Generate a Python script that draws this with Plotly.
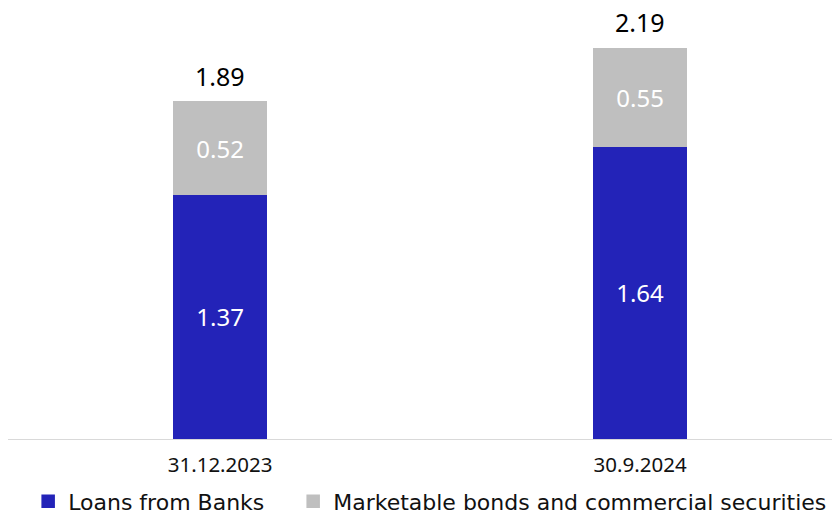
import plotly.graph_objects as go

categories = ["31.12.2023", "30.9.2024"]
loans = [1.37, 1.64]
bonds = [0.52, 0.55]
totals = [1.89, 2.19]

FONT = "Noto Sans"
LEGEND_FONT = "DejaVu Sans"
fig = go.Figure()
fig.add_trace(go.Bar(
    x=categories, y=loans, name="Loans from Banks",
    marker=dict(color="#2323B8", line=dict(width=1.5, color="#2323B8")),
    text=[f"{v:.2f}" for v in loans], textposition="inside",
    insidetextanchor="middle",
    textfont=dict(color="white", size=24, family=FONT),
    width=0.22, legend="legend",
))
fig.add_trace(go.Bar(
    x=categories, y=bonds, name="Marketable bonds and commercial securities",
    marker=dict(color="#BFBFBF", line=dict(width=1.5, color="#BFBFBF")),
    text=[f"{v:.2f}" for v in bonds], textposition="inside",
    insidetextanchor="middle",
    textfont=dict(color="white", size=24, family=FONT),
    width=0.22, legend="legend2",
))
for c, t in zip(categories, totals):
    fig.add_annotation(x=c, y=t, text=f"{t:.2f}", showarrow=False,
                       yanchor="bottom", yshift=11, height=26,
                       font=dict(color="black", size=25, family=FONT))

leg_common = dict(orientation="h", y=-0.145, yanchor="middle", xanchor="left",
                  font=dict(size=22, color="#111111", family=LEGEND_FONT),
                  itemwidth=30, bgcolor="rgba(0,0,0,0)")

fig.update_layout(
    barmode="stack",
    width=840, height=516,
    margin=dict(l=0, r=0, t=0, b=85),
    plot_bgcolor="white", paper_bgcolor="white",
    uniformtext=dict(mode=False),
    font=dict(family=FONT, size=20, color="#111111"),
    xaxis=dict(range=[-0.505, 1.495], showgrid=False, showline=True,
               linecolor="#D9D9D9", linewidth=1, ticks="",
               ticklabelstandoff=7,
               tickfont=dict(size=20.5, color="#111111")),
    yaxis=dict(range=[0, 2.417], visible=False, showgrid=False, zeroline=False),
    legend=dict(x=0.024, **leg_common),
    legend2=dict(x=0.3395, **leg_common),
    showlegend=True,
)
fig.write_html("out.html")
